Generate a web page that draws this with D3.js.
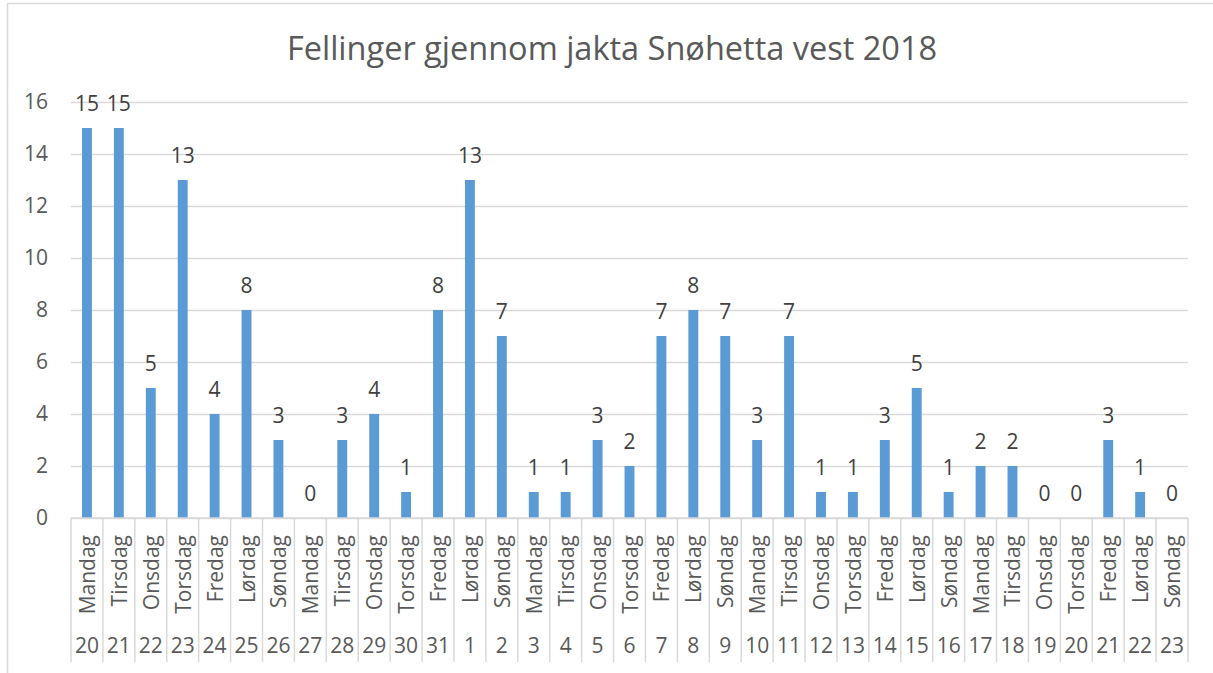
<!DOCTYPE html>
<html lang="no">
<head>
<meta charset="utf-8">
<title>Fellinger gjennom jakta Snøhetta vest 2018</title>
<script src="https://d3js.org/d3.v7.min.js"></script>
<style>
  body { margin: 0; background: #fff; }
  svg { display: block; font-family: "Open Sans", "Liberation Sans", sans-serif; }
</style>
</head>
<body>
<div id="chart"></div>
<script>
// Data
const days = ["20", "21", "22", "23", "24", "25", "26", "27", "28", "29", "30", "31",
  "1", "2", "3", "4", "5", "6", "7", "8", "9", "10", "11", "12", "13", "14", "15",
  "16", "17", "18", "19", "20", "21", "22", "23"];
const weekdays = ["Mandag", "Tirsdag", "Onsdag", "Torsdag", "Fredag", "Lørdag", "Søndag",
  "Mandag", "Tirsdag", "Onsdag", "Torsdag", "Fredag", "Lørdag", "Søndag",
  "Mandag", "Tirsdag", "Onsdag", "Torsdag", "Fredag", "Lørdag", "Søndag",
  "Mandag", "Tirsdag", "Onsdag", "Torsdag", "Fredag", "Lørdag", "Søndag",
  "Mandag", "Tirsdag", "Onsdag", "Torsdag", "Fredag", "Lørdag", "Søndag"];
const kills = [15, 15, 5, 13, 4, 8, 3, 0, 3, 4, 1, 8, 13, 7, 1, 1, 3, 2, 7, 8, 7, 3, 7,
  1, 1, 3, 5, 1, 2, 2, 0, 0, 3, 1, 0];
const yTicks = [0, 2, 4, 6, 8, 10, 12, 14, 16];

const data = kills.map((v, i) => ({ i, day: days[i], weekday: weekdays[i], value: v }));

// Dimensions
const width = 1213;
const height = 673;
const margin = { top: 102, right: 25, bottom: 155, left: 71 };
const innerWidth = width - margin.left - margin.right;
const innerHeight = height - margin.top - margin.bottom;
const fontSize = "21px";

const svg = d3.select("#chart")
  .append("svg")
  .attr("width", width)
  .attr("height", height);

// chart frame (top and left edges are visible)
svg.append("line")
  .attr("x1", 7.5).attr("x2", width)
  .attr("y1", 3.5).attr("y2", 3.5)
  .style("stroke", "#d9d9d9")
  .style("stroke-width", 1.5);
svg.append("line")
  .attr("x1", 7.5).attr("x2", 7.5)
  .attr("y1", 3.5).attr("y2", height)
  .style("stroke", "#d9d9d9")
  .style("stroke-width", 1.5);

svg.append("text")
  .attr("x", 612)
  .attr("y", 60)
  .attr("text-anchor", "middle")
  .style("font-size", "32.5px")
  .style("fill", "#595959")
  .text("Fellinger gjennom jakta Snøhetta vest 2018");

const bounds = svg.append("g")
  .attr("transform", `translate(${margin.left},${margin.top})`);

// Scales
const x = d3.scaleBand()
  .domain(data.map(d => d.i))
  .range([0, innerWidth])
  .paddingInner(0.69)
  .paddingOuter(0.345);

const xOuter = d3.scaleBand()
  .domain(data.map(d => d.i))
  .range([0, innerWidth]);

const y = d3.scaleLinear()
  .domain([0, 16])
  .range([innerHeight, 0]);

// Gridlines + y labels
const yAxis = bounds.append("g")
  .call(d3.axisLeft(y).tickValues(yTicks).tickSize(-innerWidth).tickPadding(23));
yAxis.select(".domain").remove();
yAxis.selectAll(".tick line")
  .style("stroke", "#d9d9d9")
  .style("stroke-width", 1.5);
yAxis.selectAll(".tick text")
  .style("font-size", fontSize)
  .style("fill", "#595959")
  .style("font-family", "'Open Sans', sans-serif");

// Bars
bounds.selectAll(".bar")
  .data(data)
  .enter().append("rect")
  .attr("class", "bar")
  .attr("x", d => x(d.i))
  .attr("y", d => y(d.value))
  .attr("width", x.bandwidth())
  .attr("height", d => innerHeight - y(d.value))
  .style("fill", "#5b9bd5");

// Value labels
bounds.selectAll(".value")
  .data(data)
  .enter().append("text")
  .attr("class", "value")
  .attr("x", d => x(d.i) + x.bandwidth() / 2)
  .attr("y", d => y(d.value) - 17)
  .attr("text-anchor", "middle")
  .style("font-size", fontSize)
  .style("fill", "#404040")
  .text(d => d.value);

// Category axis (two levels)
const cat = bounds.append("g")
  .attr("transform", `translate(0,${innerHeight})`);

cat.append("line")
  .attr("x1", 0)
  .attr("x2", innerWidth)
  .style("stroke", "#d9d9d9")
  .style("stroke-width", 1.5);

const seps = d3.range(data.length + 1);
cat.selectAll(".sep")
  .data(seps)
  .enter().append("line")
  .attr("class", "sep")
  .attr("x1", i => i < data.length ? xOuter(i) : innerWidth)
  .attr("x2", i => i < data.length ? xOuter(i) : innerWidth)
  .attr("y1", 0)
  .attr("y2", 144)
  .style("stroke", "#d9d9d9")
  .style("stroke-width", 1.5);

cat.selectAll(".weekday")
  .data(data)
  .enter().append("text")
  .attr("class", "weekday")
  .attr("transform", d => `translate(${xOuter(d.i) + xOuter.bandwidth() / 2 + 8},17) rotate(-90)`)
  .attr("text-anchor", "end")
  .style("font-size", fontSize)
  .style("fill", "#595959")
  .text(d => d.weekday);

cat.selectAll(".day")
  .data(data)
  .enter().append("text")
  .attr("class", "day")
  .attr("x", d => xOuter(d.i) + xOuter.bandwidth() / 2)
  .attr("y", 135)
  .attr("text-anchor", "middle")
  .style("font-size", fontSize)
  .style("fill", "#595959")
  .text(d => d.day);
</script>
</body>
</html>
